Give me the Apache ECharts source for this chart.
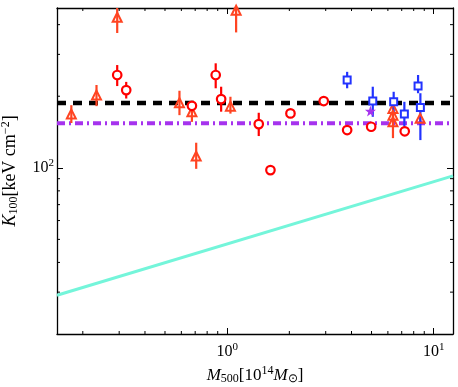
<!DOCTYPE html>
<html>
<head>
<meta charset="utf-8">
<script src="https://cdn.jsdelivr.net/npm/echarts@6/dist/echarts.min.js"></script>
<style>
html,body{margin:0;padding:0;background:#fff;}
#chart{width:458px;height:387px;}
</style>
</head>
<body>
<div id="chart"></div>
<script>
// ---- data (x = M500 [1e14 Msun], y = K100 [keV cm^2]) ----
// red open circles: [x, y, low, high]
const circleX  = [0.2935, 0.3245, 0.675, 0.88, 0.935, 1.422, 1.62, 2.025, 2.935, 3.81, 4.98, 7.24];
const circleY  = [245.6, 212.2, 182.3, 245.6, 194.5, 152.7, 97.8, 169.4, 190.9, 144.1, 148.8, 142.4];
const circleLo = [220.7, 195.6, 176, 216, 172.2, 136, 95, 165, 186, 140, 142, 138];
const circleHi = [270.5, 229.8, 188, 275.1, 219.3, 170.4, 100.5, 174, 196, 148, 156, 147];

// orange open triangles
const triX  = [0.176, 0.233, 0.2935, 0.5875, 0.675, 0.708, 1.037, 1.105, 6.35, 6.35, 6.35, 8.6];
const triY  = [168.2, 202.2, 430, 187.7, 172.2, 112, 181.7, 460, 177.8, 166.5, 156.2, 161.4];
const triLo = [154.3, 181.7, 369, 166.5, 156, 99, 169, 371, 170, 160, 133.3, 155];
const triHi = [183.4, 223, 500, 210.9, 187, 127.5, 199, 520, 190, 172, 166, 168];

// blue open squares
const sqX  = [3.81, 5.07, 6.40, 7.21, 8.40, 8.62];
const sqY  = [233.8, 190.9, 189.5, 168.2, 220.7, 179.5];
const sqLo = [216, 163.9, 169.4, 148.8, 205.9, 130.8];
const sqHi = [253.3, 219.3, 208.8, 189.5, 245.6, 205.9];

// purple star
const starX = [4.94];
const starY = [173.2];

// horizontal reference levels
const blackLevel = 187.3;
const purpleLevel = 153.8;

// cyan relation (straight in log-log)
const cyanX = [0.15, 12.4];
const cyanY = [29.1, 92.5];

// axes
const xMin = 0.15, xMax = 12.4;
const yMin = 20, yMax = 470;
const xMinorTicks = [0.2, 0.3, 0.4, 0.5, 0.6, 0.7, 0.8, 0.9, 2, 3, 4, 5, 6, 7, 8, 9];
const yMinorTicks = [30, 40, 50, 60, 70, 80, 90, 200, 300, 400];

const RED = '#ff0000', ORANGE = '#ff4422', BLUE = '#2233ff', PURPLE = '#a633ee', CYAN = '#74f5da';
const FONT = 'Liberation Serif';

function zip(a, b) { return a.map((v, i) => [v, b[i]]); }
function errData(x, lo, hi) { return x.map((v, i) => [v, lo[i], hi[i]]); }

function errSeries(x, lo, hi, color) {
  return {
    type: 'custom', clip: true, z: 3, silent: true,
    data: errData(x, lo, hi),
    encode: { x: 0, y: [1, 2] },
    renderItem: function (params, api) {
      const a = api.coord([api.value(0), api.value(1)]);
      const b = api.coord([api.value(0), api.value(2)]);
      return { type: 'line', shape: { x1: a[0], y1: a[1], x2: b[0], y2: b[1] },
               style: { stroke: color, lineWidth: 2.2 } };
    }
  };
}

function isPow10(v) { const l = Math.log10(v); return Math.abs(l - Math.round(l)) < 1e-6; }

const richLab = {
  b: { fontFamily: FONT, fontSize: 16, color: '#000' },
  s: { fontFamily: FONT, fontSize: 11, color: '#000', padding: [0, 0, 9, 0] }
};

const chart = echarts.init(document.getElementById('chart'), null, { renderer: 'canvas' });

const axisCommon = {
  type: 'log', logBase: 10,
  splitLine: { show: false },
  axisLine: { show: true, lineStyle: { color: '#000', width: 1.3 } },
  axisTick: { show: true, inside: true, length: 6, lineStyle: { color: '#000', width: 1 } },
  minorTick: { show: false }
};

const option = {
  animation: false,
  backgroundColor: '#fff',
  grid: { left: 57, right: 5, top: 8, bottom: 53, containLabel: false, outerBoundsMode: 'none' },
  xAxis: [
    Object.assign({}, axisCommon, {
      min: xMin, max: xMax, position: 'bottom',
      axisLabel: { margin: 8, formatter: function (v) { return isPow10(v) ? '{b|10}{s|' + Math.round(Math.log10(v)) + '}' : ''; }, rich: richLab },
      name: '{i|M}{sub|500}{b|[10}{sup|14}{i|M}{sub|⊙}{b|]}',
      nameLocation: 'middle', nameGap: 30,
      nameTextStyle: {
        rich: {
          i: { fontFamily: FONT, fontStyle: 'italic', fontSize: 17, color: '#000' },
          b: { fontFamily: FONT, fontSize: 17, color: '#000' },
          sub: { fontFamily: FONT, fontSize: 12, color: '#000', padding: [7, 0, 0, 0] },
          sup: { fontFamily: FONT, fontSize: 12, color: '#000', padding: [0, 0, 9, 0] }
        }
      }
    }),
    Object.assign({}, axisCommon, {
      min: xMin, max: xMax, position: 'top', axisLabel: { show: false }
    })
  ],
  yAxis: [
    Object.assign({}, axisCommon, {
      min: yMin, max: yMax, position: 'left',
      axisLabel: { margin: 3, formatter: function (v) { return isPow10(v) ? '{b|10}{s|' + Math.round(Math.log10(v)) + '}' : ''; }, rich: richLab },
      name: '{i|K}{sub|100}{b|[keV cm}{sup|−2}{b|]}',
      nameLocation: 'middle', nameGap: 36, nameRotate: 90,
      nameTextStyle: {
        rich: {
          i: { fontFamily: FONT, fontStyle: 'italic', fontSize: 18, color: '#000' },
          b: { fontFamily: FONT, fontSize: 18, color: '#000' },
          sub: { fontFamily: FONT, fontSize: 12, color: '#000', padding: [7, 0, 0, 0] },
          sup: { fontFamily: FONT, fontSize: 12, color: '#000', padding: [0, 0, 9, 0] }
        }
      }
    }),
    Object.assign({}, axisCommon, {
      min: yMin, max: yMax, position: 'right', axisLabel: { show: false }
    })
  ],
  series: [
    // minor ticks on x (bottom & top)
    {
      type: 'custom', silent: true, z: 10,
      data: xMinorTicks.map(v => [v, 100]),
      encode: { x: 0, y: 1 },
      renderItem: function (params, api) {
        const p = api.coord([api.value(0), 100]);
        const cs = params.coordSys;
        return { type: 'group', children: [
          { type: 'line', shape: { x1: p[0], y1: cs.y + cs.height, x2: p[0], y2: cs.y + cs.height - 3 }, style: { stroke: '#000', lineWidth: 1 } },
          { type: 'line', shape: { x1: p[0], y1: cs.y, x2: p[0], y2: cs.y + 3 }, style: { stroke: '#000', lineWidth: 1 } }
        ] };
      }
    },
    // minor ticks on y (left & right)
    {
      type: 'custom', silent: true, z: 10,
      data: yMinorTicks.map(v => [1, v]),
      encode: { x: 0, y: 1 },
      renderItem: function (params, api) {
        const p = api.coord([1, api.value(1)]);
        const cs = params.coordSys;
        return { type: 'group', children: [
          { type: 'line', shape: { x1: cs.x, y1: p[1], x2: cs.x + 3, y2: p[1] }, style: { stroke: '#000', lineWidth: 1 } },
          { type: 'line', shape: { x1: cs.x + cs.width, y1: p[1], x2: cs.x + cs.width - 3, y2: p[1] }, style: { stroke: '#000', lineWidth: 1 } }
        ] };
      }
    },
    // reference lines
    {
      type: 'line', symbol: 'none', silent: true, z: 1,
      data: [[xMin, blackLevel], [xMax, blackLevel]],
      lineStyle: { color: '#000', width: 4.5, type: [9, 7] }
    },
    {
      type: 'line', symbol: 'none', silent: true, z: 1,
      data: [[xMin, purpleLevel], [xMax, purpleLevel]],
      lineStyle: { color: PURPLE, width: 4, type: [8, 4, 2, 4] }
    },
    {
      type: 'line', symbol: 'none', silent: true, z: 1,
      data: zip(cyanX, cyanY),
      lineStyle: { color: CYAN, width: 3 }
    },
    // error bars
    errSeries(circleX, circleLo, circleHi, RED),
    errSeries(triX, triLo, triHi, ORANGE),
    errSeries(sqX, sqLo, sqHi, BLUE),
    // markers
    {
      type: 'scatter', z: 5, symbol: 'circle', symbolSize: 8.5,
      data: zip(circleX, circleY),
      itemStyle: { color: '#fff', borderColor: RED, borderWidth: 2.2, opacity: 1 }
    },
    {
      type: 'scatter', z: 4, symbol: 'triangle', symbolSize: 9,
      data: zip(triX, triY),
      itemStyle: { color: 'rgba(255,255,255,0)', borderColor: ORANGE, borderWidth: 2, opacity: 1 }
    },
    {
      type: 'scatter', z: 5, symbol: 'rect', symbolSize: 7,
      data: zip(sqX, sqY),
      itemStyle: { color: '#fff', borderColor: BLUE, borderWidth: 2, opacity: 1 }
    },
    {
      type: 'scatter', z: 6, symbol: 'path://M0,-10 L2.35,-3.24 L9.51,-3.09 L3.8,1.24 L5.88,8.09 L0,4 L-5.88,8.09 L-3.8,1.24 L-9.51,-3.09 L-2.35,-3.24 Z',
      symbolSize: 11,
      data: zip(starX, starY),
      itemStyle: { color: PURPLE, opacity: 1 }
    }
  ]
};
chart.setOption(option);
</script>
</body>
</html>
